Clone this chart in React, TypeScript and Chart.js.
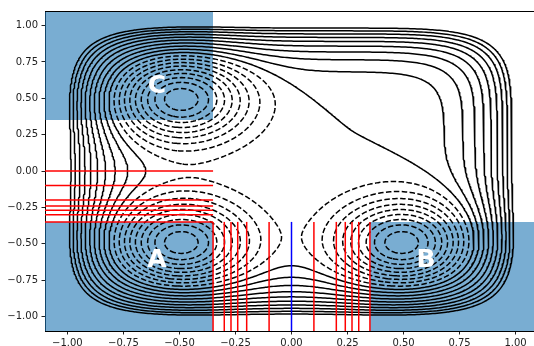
import React, { useEffect, useRef } from "react";
import { Chart, registerables } from "chart.js";

Chart.register(...registerables);

// ---------- axes ----------
const X_MIN = -1.1;
const X_MAX = 1.1;
const Y_MIN = -1.1;
const Y_MAX = 1.1;
const xTicks = [-1.0, -0.75, -0.5, -0.25, 0.0, 0.25, 0.5, 0.75, 1.0];
const yTicks = [-1.0, -0.75, -0.5, -0.25, 0.0, 0.25, 0.5, 0.75, 1.0];

// ---------- potential energy surface (outer walls + three gaussian wells) ----------
const wellCenterX = [-0.5, -0.5, 0.5];
const wellCenterY = [0.5, -0.5, -0.5];
const wellDepth = [-1.0, -1.0, -1.0];
const wellAlpha = [12.0, 12.0, 12.0];
const wallCoef = [1.0, 1.0];
const wallPower = [6, 6];
const contourLevels = [
  -0.9, -0.8, -0.7, -0.6, -0.5, -0.4, -0.3, -0.2, -0.1,
  0.0, 0.1, 0.2, 0.3, 0.4, 0.5, 0.6, 0.7, 0.8, 0.9,
];
const gridStep = 0.01;

// ---------- states ----------
const stateNames = ["A", "B", "C"];
const stateXMin = [-1.1, 0.35, -1.1];
const stateXMax = [-0.35, 1.1, -0.35];
const stateYMin = [-1.1, -1.1, 0.35];
const stateYMax = [-0.35, -0.35, 1.1];
const stateLabelX = [-0.6, 0.6, -0.6];
const stateLabelY = [-0.6, -0.6, 0.6];

// ---------- interfaces ----------
const verticalInterfacesX = [-0.35, -0.3, -0.27, -0.24, -0.2, -0.1, 0.1, 0.2, 0.24, 0.27, 0.3, 0.35];
const verticalInterfaceYRange = [-1.1, -0.35];
const horizontalInterfacesY = [0.0, -0.1, -0.2, -0.24, -0.27, -0.3, -0.35];
const horizontalInterfaceXRange = [-1.1, -0.35];
const dividerX = [0.0];
const dividerYRange = [-1.1, -0.35];

type P = { x: number; y: number };

function potential(x: number, y: number): number {
  let v = wallCoef[0] * Math.pow(x, wallPower[0]) + wallCoef[1] * Math.pow(y, wallPower[1]);
  for (let k = 0; k < wellCenterX.length; k++) {
    const dx = x - wellCenterX[k];
    const dy = y - wellCenterY[k];
    v += wellDepth[k] * Math.exp(-wellAlpha[k] * (dx * dx + dy * dy));
  }
  return v;
}

function buildGrid() {
  const n = Math.round((X_MAX - X_MIN) / gridStep) + 1;
  const m = Math.round((Y_MAX - Y_MIN) / gridStep) + 1;
  const gx: number[] = [];
  const gy: number[] = [];
  for (let i = 0; i < n; i++) gx.push(X_MIN + i * gridStep);
  for (let j = 0; j < m; j++) gy.push(Y_MIN + j * gridStep);
  const Z: number[][] = [];
  for (let j = 0; j < m; j++) {
    const row: number[] = [];
    for (let i = 0; i < n; i++) row.push(potential(gx[i], gy[j]));
    Z.push(row);
  }
  return { gx, gy, Z };
}

function contourLines(gx: number[], gy: number[], Z: number[][], level: number): P[][] {
  const nx = gx.length;
  const ny = gy.length;
  const pts = new Map<number, P>();
  const hk = (i: number, j: number) => {
    const k = (j * nx + i) * 2;
    if (!pts.has(k)) {
      const z1 = Z[j][i];
      const z2 = Z[j][i + 1];
      const t = (level - z1) / (z2 - z1);
      pts.set(k, { x: gx[i] + t * (gx[i + 1] - gx[i]), y: gy[j] });
    }
    return k;
  };
  const vk = (i: number, j: number) => {
    const k = (j * nx + i) * 2 + 1;
    if (!pts.has(k)) {
      const z1 = Z[j][i];
      const z2 = Z[j + 1][i];
      const t = (level - z1) / (z2 - z1);
      pts.set(k, { x: gx[i], y: gy[j] + t * (gy[j + 1] - gy[j]) });
    }
    return k;
  };
  const sa: number[] = [];
  const sb: number[] = [];
  const add = (a: number, b: number) => {
    sa.push(a);
    sb.push(b);
  };
  for (let j = 0; j < ny - 1; j++) {
    for (let i = 0; i < nx - 1; i++) {
      const z00 = Z[j][i];
      const z10 = Z[j][i + 1];
      const z11 = Z[j + 1][i + 1];
      const z01 = Z[j + 1][i];
      const idx =
        (z00 > level ? 1 : 0) | (z10 > level ? 2 : 0) | (z11 > level ? 4 : 0) | (z01 > level ? 8 : 0);
      if (idx === 0 || idx === 15) continue;
      const B = () => hk(i, j);
      const T = () => hk(i, j + 1);
      const L = () => vk(i, j);
      const R = () => vk(i + 1, j);
      switch (idx) {
        case 1:
        case 14:
          add(L(), B());
          break;
        case 2:
        case 13:
          add(B(), R());
          break;
        case 3:
        case 12:
          add(L(), R());
          break;
        case 4:
        case 11:
          add(R(), T());
          break;
        case 6:
        case 9:
          add(B(), T());
          break;
        case 7:
        case 8:
          add(L(), T());
          break;
        case 5: {
          const c = (z00 + z10 + z11 + z01) / 4;
          if (c > level) {
            add(B(), R());
            add(L(), T());
          } else {
            add(L(), B());
            add(R(), T());
          }
          break;
        }
        case 10: {
          const c = (z00 + z10 + z11 + z01) / 4;
          if (c > level) {
            add(L(), B());
            add(R(), T());
          } else {
            add(B(), R());
            add(L(), T());
          }
          break;
        }
      }
    }
  }
  const adj = new Map<number, number[]>();
  for (let s = 0; s < sa.length; s++) {
    for (const k of [sa[s], sb[s]]) {
      const l = adj.get(k);
      if (l) l.push(s);
      else adj.set(k, [s]);
    }
  }
  const used = new Uint8Array(sa.length);
  const lines: P[][] = [];
  const walk = (start: number): number[] => {
    const out: number[] = [];
    let cur = start;
    for (;;) {
      const l = adj.get(cur) || [];
      let next = -1;
      for (const t of l) if (!used[t]) { next = t; break; }
      if (next < 0) break;
      used[next] = 1;
      const other = sa[next] === cur ? sb[next] : sa[next];
      out.push(other);
      cur = other;
    }
    return out;
  };
  for (let s = 0; s < sa.length; s++) {
    if (used[s]) continue;
    used[s] = 1;
    const fwd = walk(sb[s]);
    const bwd = walk(sa[s]);
    const keys = [...bwd.reverse(), sa[s], sb[s], ...fwd];
    lines.push(keys.map((k) => pts.get(k)!));
  }
  return lines;
}

const fmt = (v: number) => {
  const s = Math.abs(v).toFixed(2);
  return v < -1e-9 ? "\u2212" + s : s;
};

export default function App() {
  const canvasRef = useRef<HTMLCanvasElement | null>(null);

  useEffect(() => {
    const canvas = canvasRef.current;
    if (!canvas) return;
    const { gx, gy, Z } = buildGrid();

    const datasets: any[] = [];

    // state boxes
    for (let s = 0; s < stateNames.length; s++) {
      datasets.push({
        label: "state " + stateNames[s],
        data: [
          { x: stateXMin[s], y: stateYMax[s] },
          { x: stateXMax[s], y: stateYMax[s] },
        ],
        borderWidth: 0,
        borderColor: "rgba(0,0,0,0)",
        backgroundColor: "rgba(31,119,180,0.6)",
        fill: { value: stateYMin[s] },
        pointRadius: 0,
        order: 5,
      });
    }

    // contours
    for (const level of contourLevels) {
      const lines = contourLines(gx, gy, Z, level);
      for (const line of lines) {
        datasets.push({
          label: "level " + level,
          data: line,
          borderColor: "#000000",
          borderWidth: 1.5,
          borderDash: level < 0 ? [5.5, 2.4] : [],
          pointRadius: 0,
          fill: false,
          tension: 0,
          order: 3,
        });
      }
    }

    // interfaces
    for (const x of verticalInterfacesX) {
      datasets.push({
        label: "iface x " + x,
        data: [
          { x, y: verticalInterfaceYRange[0] },
          { x, y: verticalInterfaceYRange[1] },
        ],
        borderColor: "#ff0000",
        borderWidth: 1.5,
        pointRadius: 0,
        fill: false,
        order: 1,
      });
    }
    for (const y of horizontalInterfacesY) {
      datasets.push({
        label: "iface y " + y,
        data: [
          { x: horizontalInterfaceXRange[0], y },
          { x: horizontalInterfaceXRange[1], y },
        ],
        borderColor: "#ff0000",
        borderWidth: 1.5,
        pointRadius: 0,
        fill: false,
        order: 1,
      });
    }
    for (const x of dividerX) {
      datasets.push({
        label: "divider",
        data: [
          { x, y: dividerYRange[0] },
          { x, y: dividerYRange[1] },
        ],
        borderColor: "#0000ff",
        borderWidth: 1.5,
        pointRadius: 0,
        fill: false,
        order: 1,
      });
    }

    const framePlugin = {
      id: "frameAndLabels",
      afterDatasetsDraw(chart: any) {
        const ctx = chart.ctx;
        const xs = chart.scales.x;
        const ys = chart.scales.y;
        ctx.save();
        ctx.font = 'bold 25px "DejaVu Sans"';
        ctx.fillStyle = "#ffffff";
        ctx.textAlign = "center";
        ctx.textBaseline = "alphabetic";
        for (let s = 0; s < stateNames.length; s++) {
          const px = xs.getPixelForValue(stateLabelX[s]);
          const py = ys.getPixelForValue(stateLabelY[s]);
          ctx.fillText(stateNames[s], px, py + 9);
        }
        const a = chart.chartArea;
        ctx.strokeStyle = "#000000";
        ctx.lineWidth = 1;
        ctx.beginPath();
        ctx.moveTo(a.left, Math.round(a.top) + 0.5);
        ctx.lineTo(a.right, Math.round(a.top) + 0.5);
        ctx.moveTo(Math.round(a.right) - 0.5, a.top);
        ctx.lineTo(Math.round(a.right) - 0.5, a.bottom);
        ctx.stroke();
        ctx.restore();
      },
    };

    const chart = new Chart(canvas, {
      type: "line",
      data: { datasets },
      options: {
        animation: false,
        responsive: false,
        devicePixelRatio: 1,
        events: [],
        layout: { padding: { top: 11, right: 7, left: 0, bottom: 0 } },
        plugins: {
          legend: { display: false },
          tooltip: { enabled: false },
          title: { display: false },
        },
        elements: { point: { radius: 0 }, line: { borderJoinStyle: "round" } },
        scales: {
          x: {
            type: "linear",
            min: X_MIN,
            max: X_MAX,
            afterBuildTicks: (scale: any) => {
              scale.ticks = xTicks.map((v) => ({ value: v }));
            },
            afterFit: (scale: any) => {
              scale.height = 15;
            },
            ticks: {
              autoSkip: false,
              maxRotation: 0,
              padding: 3,
              color: "#222222",
              font: { family: '"DejaVu Sans"', size: 10 },
              callback: (v: any) => fmt(Number(v)),
            },
            grid: {
              display: true,
              drawOnChartArea: false,
              drawTicks: true,
              tickLength: 3.5,
              color: "#222222",
            },
            border: { display: true, color: "#000000", width: 1 },
          },
          y: {
            type: "linear",
            min: Y_MIN,
            max: Y_MAX,
            afterBuildTicks: (scale: any) => {
              scale.ticks = yTicks.map((v) => ({ value: v }));
            },
            afterFit: (scale: any) => {
              scale.width = 45;
            },
            ticks: {
              autoSkip: false,
              padding: 3.5,
              color: "#222222",
              font: { family: '"DejaVu Sans"', size: 10 },
              callback: (v: any) => fmt(Number(v)),
            },
            grid: {
              display: true,
              drawOnChartArea: false,
              drawTicks: true,
              tickLength: 3.5,
              color: "#222222",
            },
            border: { display: true, color: "#000000", width: 1 },
          },
        },
      },
      plugins: [framePlugin],
    } as any);

    return () => {
      chart.destroy();
    };
  }, []);

  return (
    <div
      style={{
        position: "fixed",
        left: 0,
        top: 0,
        width: 534,
        height: 346,
        overflow: "hidden",
        background: "#ffffff",
      }}
    >
      <canvas
        ref={canvasRef}
        width={545}
        height={346}
        style={{ display: "block", width: 545, height: 346 }}
      />
    </div>
  );
}
